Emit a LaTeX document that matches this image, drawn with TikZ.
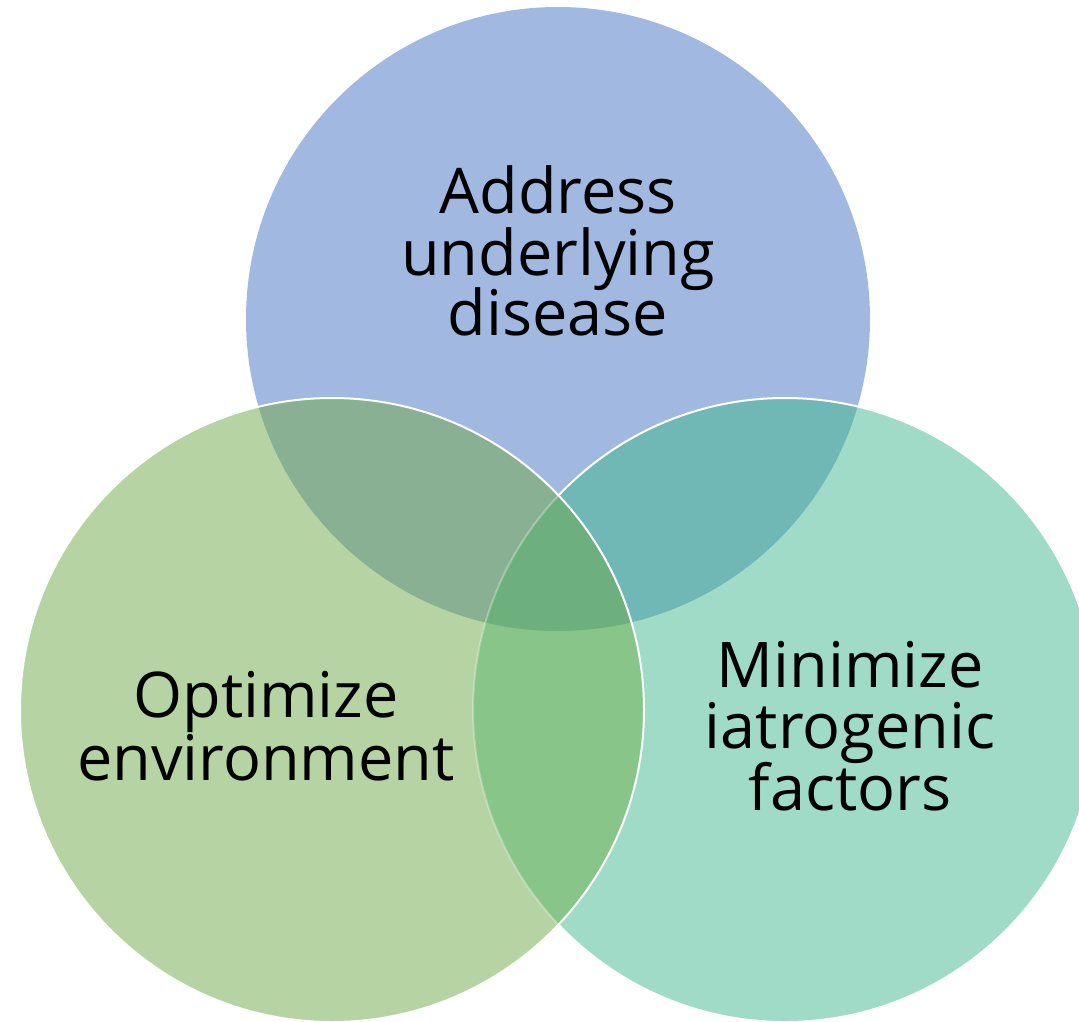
\documentclass[tikz,border=0pt]{standalone}
\usepackage{fontspec}
\setmainfont{Open Sans}
\definecolor{cBlue}{RGB}{161,184,225}
\definecolor{cGreen}{RGB}{182,212,163}
\definecolor{cTeal}{RGB}{160,219,199}
\definecolor{cBlueGreen}{RGB}{137,176,146}
\definecolor{cBlueTeal}{RGB}{111,184,181}
\definecolor{cGreenTeal}{RGB}{136,197,136}
\definecolor{cAll}{RGB}{109,176,125}
\begin{document}
\begin{tikzpicture}[x=1pt,y=-1pt,
  rim/.style={draw=white, line width=2pt},
  lbl/.style={font=\fontsize{63}{61}\selectfont, text=black, inner sep=0pt, anchor=base}]
\useasboundingbox (0,0) rectangle (1079,1021);
\coordinate (cT) at (558,319);
\coordinate (cL) at (332,710);
\coordinate (cR) at (785,710);
\def\rad{312pt}
\begin{scope}
\clip (0,0) rectangle (1079,1021);
% top circle
\fill[cBlue] (cT) circle[radius=\rad];
% right circle and its overlap with the top one
\fill[cTeal] (cR) circle[radius=\rad];
\begin{scope}
  \clip (cT) circle[radius=\rad];
  \fill[cBlueTeal] (cR) circle[radius=\rad];
\end{scope}
\draw[rim] (cR) circle[radius=\rad];
% left circle and its overlaps
\fill[cGreen] (cL) circle[radius=\rad];
\begin{scope}
  \clip (cT) circle[radius=\rad];
  \fill[cBlueGreen] (cL) circle[radius=\rad];
\end{scope}
\begin{scope}
  \clip (cR) circle[radius=\rad];
  \fill[cGreenTeal] (cL) circle[radius=\rad];
\end{scope}
\begin{scope}
  \clip (cT) circle[radius=\rad];
  \clip (cR) circle[radius=\rad];
  \fill[cAll] (cL) circle[radius=\rad];
\end{scope}
% right rim seen through the left circle
\begin{scope}
  \clip (cL) circle[radius=\rad];
  \draw[rim, draw opacity=0.3] (cR) circle[radius=\rad];
\end{scope}
\draw[rim] (cL) circle[radius=\rad];
\end{scope}
% labels
\node[lbl] (t1) at (558,213) {Address};
\node[lbl] (t2) at (558,275) {underlying};
\node[lbl] (t3) at (558,335) {disease};
\node[lbl] (l1) at (266,717) {Optimize};
\node[lbl] (l2) at (266,780) {environment};
\node[lbl] (r1) at (850,687) {Minimize};
\node[lbl] (r2) at (850,748) {iatrogenic};
\node[lbl] (r3) at (850,810) {factors};
\end{tikzpicture}
\end{document}
